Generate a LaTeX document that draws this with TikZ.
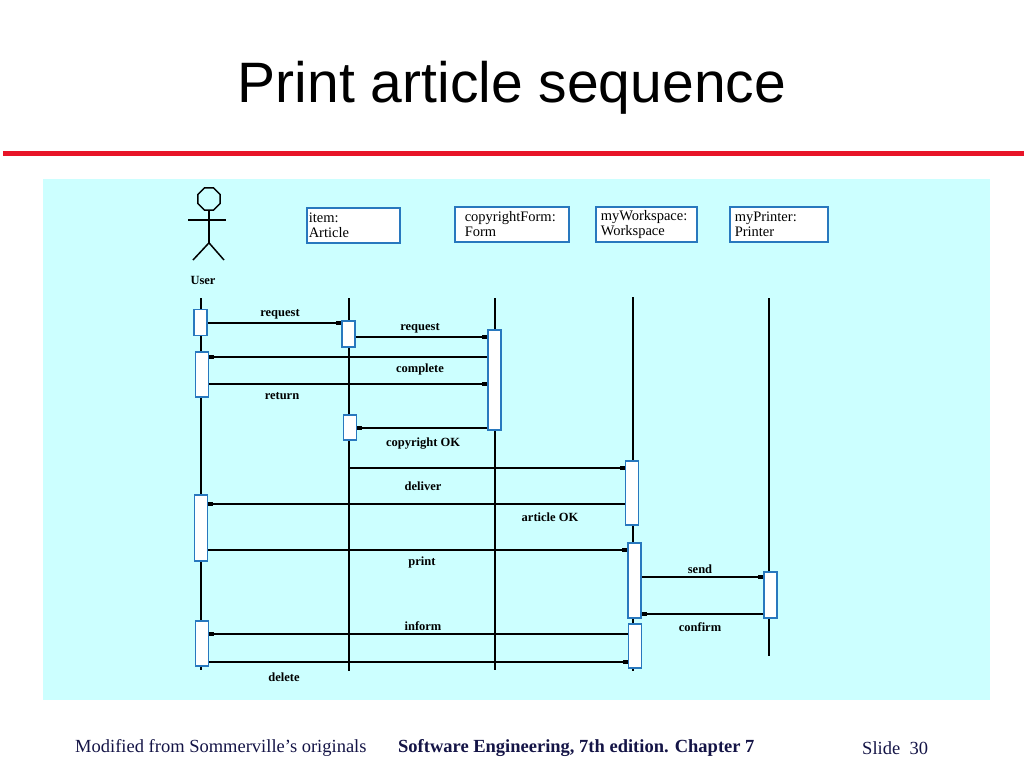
\documentclass[tikz,border=0pt]{standalone}
\usepackage{fontspec}
\setmainfont{Liberation Serif}
\newfontfamily\titlefont{Liberation Sans}
\usepackage{tikz}
\usetikzlibrary{arrows.meta,shapes.geometric}
\definecolor{slidered}{RGB}{232,20,40}
\definecolor{paneback}{RGB}{204,255,255}
\definecolor{boxblue}{RGB}{40,120,190}
\definecolor{footnavy}{RGB}{20,20,70}

\begin{document}
\begin{tikzpicture}[x=1pt,y=-1pt,
  objbox/.style={draw=boxblue, fill=white, line width=1.5pt, anchor=north west,
    minimum height=35pt, inner ysep=2pt, align=left,
    font=\fontsize{14.5}{15}\selectfont},
  actbar/.style={draw=boxblue, fill=white, line width=1.5pt, minimum width=13pt, inner sep=0pt},
  life/.style={line width=1.5pt},
  msg/.style={line width=1.5pt, -{Square[length=5pt,width=4pt]}},
  lbl/.style={font=\fontsize{12.5}{14}\selectfont\bfseries, inner sep=0pt},
  foot/.style={font=\fontsize{18.5}{20}\selectfont, text=footnavy, anchor=west, inner sep=0pt}]
\useasboundingbox (0,0) rectangle (1024,768);
% title and rule
\node[font=\fontsize{57}{60}\selectfont\titlefont] (title) at (512,88) {Print article sequence};
\fill[slidered] (3,151) rectangle (1024,156);
\fill[paneback] (43,179) rectangle (990,700);
% actor
\node[draw, regular polygon, regular polygon sides=8, minimum size=24pt, inner sep=0pt, line width=1.5pt] (head) at (209,199) {};
\draw[line width=1.5pt] (head.south) -- ++(0,32) coordinate (hip);
\draw[line width=1.5pt] (188,220) -- (226,220);
\draw[line width=1.5pt] (193,260) -- (hip) -- (224,260);
\node[lbl] (user) at (203,280) {User};
% objects
\node[objbox, inner xsep=2pt, text width=89pt] (item) at (306,207) {item:\\Article};
\node[objbox, inner xsep=10pt, text width=94pt] (form) at (454,206) {copyrightForm:\\Form};
\node[objbox, inner xsep=5pt, text width=91pt] (work) at (595,206) {myWorkspace:\\Workspace};
\node[objbox, inner xsep=5pt, text width=88pt] (prnt) at (729,206) {myPrinter:\\Printer};
% lifelines
\coordinate (lu) at (201,298);
\coordinate (li) at (349,298);
\coordinate (lf) at (495,298);
\coordinate (lw) at (633,297);
\coordinate (lp) at (769,298);
\draw[life] (lu) -- ++(0,372);
\draw[life] (li) -- ++(0,373);
\draw[life] (lf) -- ++(0,372);
\draw[life] (lw) -- ++(0,374);
\draw[life] (lp) -- ++(0,358);
% activation bars
\node[actbar, minimum height=26pt] (u1) at (200.5,322.5) {};
\node[actbar, minimum height=45pt] (u2) at (202,374.5) {};
\node[actbar, minimum height=66pt] (u3) at (201,528) {};
\node[actbar, minimum height=45pt] (u4) at (202,643.5) {};
\node[actbar, minimum height=26pt] (i1) at (348.5,334) {};
\node[actbar, minimum height=25pt] (i2) at (350,427.5) {};
\node[actbar, minimum height=100pt] (f1) at (494.5,380) {};
\node[actbar, minimum height=64pt] (w1) at (632,493) {};
\node[actbar, minimum height=75pt] (w2) at (634.5,580.5) {};
\node[actbar, minimum height=44pt] (w3) at (635,646) {};
\node[actbar, minimum height=46pt] (p1) at (770.5,595) {};
% messages
\draw[msg] (u1.east |- 0,323) -- (i1.west |- 0,323);
\node[lbl] (m1) at (280,314) {request};
\draw[msg] (i1.east |- 0,337) -- (f1.west |- 0,337);
\node[lbl] (m2) at (420,328) {request};
\draw[msg] (f1.west |- 0,357) -- (u2.east |- 0,357);
\node[lbl] (m3) at (420,369) {complete};
\draw[msg] (u2.east |- 0,384) -- (f1.west |- 0,384);
\node[lbl] (m4) at (282,396) {return};
\draw[msg] (f1.west |- 0,428) -- (i2.east |- 0,428);
\node[lbl] (m5) at (423,444) {copyright OK};
\draw[msg] (li |- 0,468) -- (w1.west |- 0,468);
\node[lbl] (m6) at (423,486) {deliver};
\draw[msg] (w1.west |- 0,504) -- (u3.east |- 0,504);
\node[lbl] (m7) at (550,517) {article OK};
\draw[msg] (u3.east |- 0,550) -- (w2.west |- 0,550);
\node[lbl] (m8) at (422,562) {print};
\draw[msg] (w2.east |- 0,577) -- (p1.west |- 0,577);
\node[lbl] (m9) at (700,569) {send};
\draw[msg] (p1.west |- 0,614) -- (w2.east |- 0,614);
\node[lbl] (m10) at (700,627) {confirm};
\draw[msg] (w3.west |- 0,634) -- (u4.east |- 0,634);
\node[lbl] (m11) at (423,626) {inform};
\draw[msg] (u4.east |- 0,662) -- (w3.west |- 0,662);
\node[lbl] (m12) at (284,677) {delete};
% footer
\node[foot] (src) at (75,748) {Modified from Sommerville’s originals};
\node[foot, font=\fontsize{18.5}{20}\selectfont\bfseries] (book) at (398,748) {Software Engineering, 7th edition. Chapter 7};
\node[foot] (slide) at (862,748) {Slide\ \ 30};
\end{tikzpicture}
\end{document}
